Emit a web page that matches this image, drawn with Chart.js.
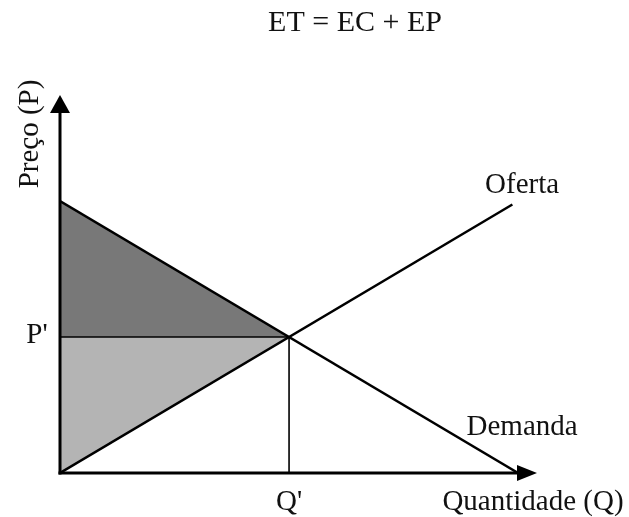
<!DOCTYPE html>
<html>
<head>
<meta charset="utf-8">
<title>ET = EC + EP</title>
<script src="https://cdn.jsdelivr.net/npm/chart.js@4/dist/chart.umd.min.js"></script>
<style>
  html, body { margin: 0; padding: 0; background: #fff; }
  #wrap { width: 629px; height: 517px; }
</style>
</head>
<body>
<div id="wrap"><canvas id="chart" width="629" height="517"></canvas></div>
<script>
// supply / demand model: P = 8 - Q (demanda), P = Q (oferta)
const demandQ = [0, 8];
const demandP = [8, 0];
const supplyQ = [0, 7.9];
const supplyP = [0, 7.9];
const eqQ = 4;   // Q'
const eqP = 4;   // P'

const titleText = 'ET = EC + EP';
const axisTitles = { x: 'Quantidade (Q)', y: 'Preço (P)' };
const tickNames = { p: "P'", q: "Q'" };
const curveNames = [
  { text: 'Oferta', q: 8.07, p: 8.24 },
  { text: 'Demanda', q: 8.07, p: 1.12 }
];

const pts = (xs, ys) => xs.map((x, i) => ({ x: x, y: ys[i] }));
const FONT = '29px "Liberation Serif", "Times New Roman", serif';

// axes with arrowheads plus all the text
const axesPlugin = {
  id: 'axesAndLabels',
  afterDatasetsDraw(chart) {
    const { ctx, chartArea: a, scales: { x, y } } = chart;
    const x0 = x.getPixelForValue(0), y0 = y.getPixelForValue(0);
    ctx.save();
    ctx.strokeStyle = '#000';
    ctx.fillStyle = '#000';
    ctx.lineWidth = 3;
    ctx.lineCap = 'butt';

    // vertical axis
    ctx.beginPath();
    ctx.moveTo(x0, y0 + 1.5);
    ctx.lineTo(x0, a.top + 14);
    ctx.stroke();
    ctx.beginPath();
    ctx.moveTo(x0, a.top);
    ctx.lineTo(x0 - 10, a.top + 18);
    ctx.lineTo(x0 + 10, a.top + 18);
    ctx.closePath();
    ctx.fill();

    // horizontal axis
    ctx.beginPath();
    ctx.moveTo(x0 - 1.5, y0);
    ctx.lineTo(a.right - 14, y0);
    ctx.stroke();
    ctx.beginPath();
    ctx.moveTo(a.right, y0);
    ctx.lineTo(a.right - 20, y0 - 8);
    ctx.lineTo(a.right - 20, y0 + 8);
    ctx.closePath();
    ctx.fill();

    ctx.font = FONT;
    ctx.textBaseline = 'alphabetic';
    ctx.fillStyle = '#111';

    // title
    ctx.textAlign = 'center';
    ctx.font = '30px "Liberation Serif", "Times New Roman", serif';
    ctx.fillText(titleText, 355, 31);
    ctx.font = FONT;

    // P' and Q'
    ctx.fillText(tickNames.p, x0 - 23, y.getPixelForValue(eqP) + 6);
    ctx.fillText(tickNames.q, x.getPixelForValue(eqQ), y0 + 37);

    // axis titles
    ctx.fillText(axisTitles.x, a.right - 4, y0 + 37);
    ctx.save();
    ctx.translate(x0 - 22, 134);
    ctx.rotate(-Math.PI / 2);
    ctx.fillText(axisTitles.y, 0, 0);
    ctx.restore();

    // curve names
    curveNames.forEach(c => {
      ctx.fillText(c.text, x.getPixelForValue(c.q), y.getPixelForValue(c.p));
    });
    ctx.restore();
  }
};

new Chart(document.getElementById('chart'), {
  type: 'line',
  data: {
    datasets: [
      {
        label: 'Demanda',
        data: pts(demandQ, demandP),
        borderColor: '#000',
        borderWidth: 2.5,
        fill: false
      },
      {
        label: 'Oferta',
        data: pts(supplyQ, supplyP),
        borderColor: '#000',
        borderWidth: 2.5,
        fill: false
      },
      {
        label: "P'",
        data: pts([0, eqQ], [eqP, eqP]),
        borderColor: '#000',
        borderWidth: 1.6,
        fill: false
      },
      {
        label: "Q'",
        data: pts([eqQ, eqQ], [0, eqP]),
        borderColor: '#000',
        borderWidth: 1.6,
        fill: false
      },
      {
        // excedente do consumidor
        label: 'EC',
        data: pts([0, eqQ], [demandP[0], eqP]),
        borderWidth: 0,
        backgroundColor: '#787878',
        fill: { value: eqP }
      },
      {
        // excedente do produtor
        label: 'EP',
        data: pts([0, eqQ], [0, eqP]),
        borderWidth: 0,
        backgroundColor: '#b4b4b4',
        fill: { value: eqP }
      }
    ]
  },
  options: {
    responsive: false,
    animation: false,
    devicePixelRatio: 1,
    layout: { padding: { left: 60, right: 92, top: 95, bottom: 44 } },
    elements: { point: { radius: 0 }, line: { tension: 0 } },
    scales: {
      x: { type: 'linear', min: 0, max: 8.33, display: false },
      y: { type: 'linear', min: 0, max: 11.12, display: false }
    },
    plugins: {
      legend: { display: false },
      tooltip: { enabled: false },
      title: { display: false }
    }
  },
  plugins: [axesPlugin]
});
</script>
</body>
</html>
